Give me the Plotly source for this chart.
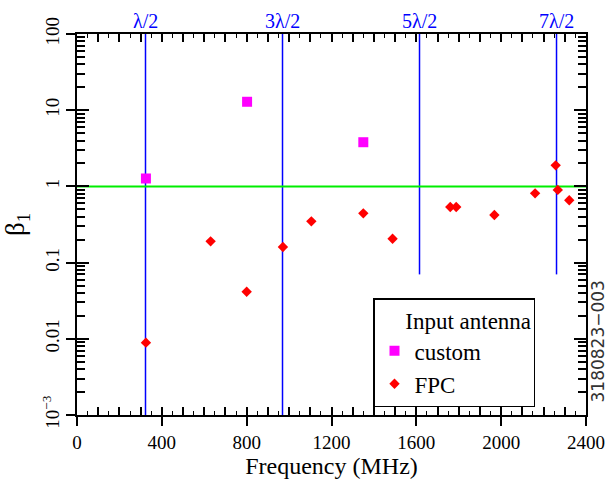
import plotly.graph_objects as go

# ---- data ----
custom_freq = [325, 802, 1350]
custom_beta = [1.27, 12.9, 3.8]

fpc_freq = [325, 630, 800, 971, 1105, 1350, 1488, 1760, 1788, 1968, 2160, 2257, 2267, 2321]
fpc_beta = [0.0089, 0.19, 0.0415, 0.16, 0.348, 0.443, 0.206, 0.537, 0.537, 0.421, 0.81, 1.89, 0.90, 0.657]

half_wave_freq = [323, 969, 1615, 2261]
half_wave_label = ["λ/2", "3λ/2", "5λ/2", "7λ/2"]
half_wave_bottom = [0.001, 0.001, 0.07, 0.07]

unity_x = [0, 2400]
unity_y = [1, 1]

x_ticks = [0, 400, 800, 1200, 1600, 2000, 2400]
y_ticks = [100, 10, 1, 0.1, 0.01, 0.001]
y_ticktext = ["100", "10", "1", "0.1", "0.01", "10<sup>−3</sup>"]

SERIF = "Liberation Serif"

fig = go.Figure()

for f, b in zip(half_wave_freq, half_wave_bottom):
    fig.add_trace(go.Scatter(x=[f, f], y=[b, 100], mode="lines",
                             line=dict(color="#0000ff", width=1.5),
                             showlegend=False, hoverinfo="skip"))

fig.add_trace(go.Scatter(x=unity_x, y=unity_y, mode="lines",
                         line=dict(color="#00ee00", width=2),
                         showlegend=False, hoverinfo="skip"))

fig.add_trace(go.Scatter(x=custom_freq, y=custom_beta, mode="markers", name="custom",
                         marker=dict(symbol="square", size=10, color="#ff00ff")))
fig.add_trace(go.Scatter(x=fpc_freq, y=fpc_beta, mode="markers", name="FPC",
                         marker=dict(symbol="diamond", size=8, color="#ff0000")))

# dummy trace for overlay tick axes
fig.add_trace(go.Scatter(x=[None], y=[None], xaxis="x2", yaxis="y2",
                         showlegend=False, hoverinfo="skip"))

for f, lab in zip(half_wave_freq, half_wave_label):
    fig.add_annotation(x=f, y=1, xref="x", yref="paper", yanchor="bottom",
                       text=lab, showarrow=False, yshift=0,
                       font=dict(family=SERIF, size=20, color="#0000ff"))

fig.add_annotation(x=1.0236, y=0.193, xref="paper", yref="paper",
                   text="3180823−003", textangle=-90, showarrow=False,
                   xanchor="center", yanchor="middle",
                   font=dict(family="DejaVu Sans", size=17, color="#333333"))

fig.update_layout(
    width=612, height=481,
    margin=dict(l=77, r=26, t=34, b=66),
    paper_bgcolor="white", plot_bgcolor="white",
    font=dict(family=SERIF, size=18, color="black"),
    xaxis=dict(range=[0, 2400], tickvals=x_ticks, ticks="outside", ticklen=9,
               tickwidth=1.5, tickcolor="black", showline=True, linecolor="black",
               linewidth=1.5, mirror=True, showgrid=False, zeroline=False,
               automargin=False,
               title=dict(text="Frequency (MHz)", font=dict(size=24), standoff=4),
               tickfont=dict(size=19)),
    yaxis=dict(type="log", range=[-3, 2], tickvals=y_ticks, ticktext=y_ticktext,
               ticks="outside", ticklen=9, tickwidth=1.5, tickcolor="black",
               tickangle=-90, showline=True, linecolor="black", linewidth=1.5,
               mirror=True, showgrid=False, zeroline=False, automargin=False,
               title=dict(text="β<sub>1</sub>", font=dict(size=27), standoff=6),
               tickfont=dict(size=19)),
    xaxis2=dict(overlaying="x", anchor="y", side="bottom", range=[0, 2400],
                tickvals=list(range(0, 2401, 100)), ticks="inside", ticklen=8,
                tickwidth=1.5, tickcolor="black", mirror="ticks", automargin=False,
                showticklabels=False, showline=False, showgrid=False, zeroline=False,
                minor=dict(dtick=50, ticks="inside", ticklen=4, tickwidth=1.2,
                           tickcolor="black", showgrid=False)),
    yaxis2=dict(overlaying="y", anchor="x", side="left", type="log", range=[-3, 2],
                tickvals=y_ticks, ticks="inside", ticklen=12, tickwidth=1.5,
                tickcolor="black", mirror="ticks", showticklabels=False, automargin=False,
                showline=False, showgrid=False, zeroline=False,
                minor=dict(dtick="D1", ticks="inside", ticklen=8, tickwidth=1.5,
                           tickcolor="black", showgrid=False)),
    legend=dict(x=(373 - 77) / 509, y=(415 - 298) / 381, xanchor="left", yanchor="top",
                bordercolor="black", borderwidth=1.5, bgcolor="white",
                font=dict(family=SERIF, size=23),
                title=dict(text="&nbsp;&nbsp;&nbsp;&nbsp;&nbsp;Input antenna",
                           font=dict(family=SERIF, size=23)),
                itemwidth=30, tracegroupgap=0),
    showlegend=True,
)

fig.write_html("out.html", config={"displayModeBar": False},
               post_script="document.body.style.margin='0px';document.body.style.overflow='hidden';")
